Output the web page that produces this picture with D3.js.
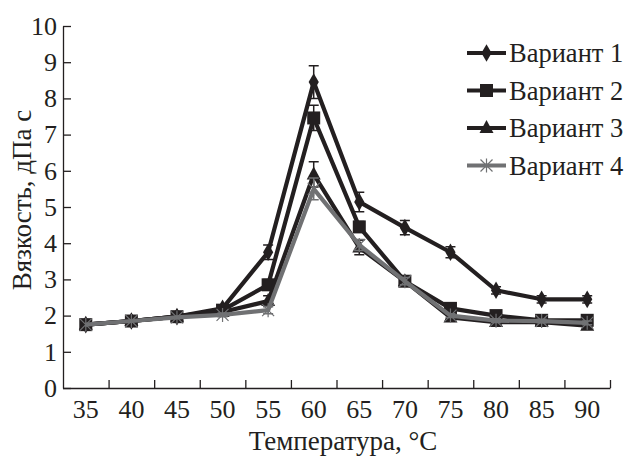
<!DOCTYPE html>
<html lang="ru">
<head>
  <meta charset="utf-8">
  <title>Вязкость</title>
  <script src="https://d3js.org/d3.v7.min.js"></script>
  <style>
    body { margin: 0; background: #fff; }
  </style>
</head>
<body>
<svg id="chart" width="627" height="456"></svg>
<script>
// temperatures, °C
var temps = ["35", "40", "45", "50", "55", "60", "65", "70", "75", "80", "85", "90"];

// viscosity, dPa s
var v1 = [1.75, 1.85, 1.97, 2.2, 3.75, 8.45, 5.14, 4.43, 3.75, 2.7, 2.45, 2.45];
var v2 = [1.75, 1.85, 1.97, 2.15, 2.85, 7.46, 4.45, 2.95, 2.2, 2.0, 1.87, 1.87];
var v3 = [1.75, 1.85, 1.97, 2.1, 2.4, 5.9, 3.88, 2.95, 1.95, 1.82, 1.82, 1.72];
var v4 = [1.75, 1.85, 1.95, 2.02, 2.15, 5.5, 3.95, 2.95, 2.0, 1.86, 1.85, 1.8];

// error bars (+/-)
var e1 = [0, 0, 0, 0.08, 0.2, 0.45, 0.27, 0.2, 0.15, 0.1, 0.1, 0.1];
var e2 = [0, 0, 0, 0, 0.15, 0.35, 0.15, 0.1, 0.1, 0.05, 0.05, 0.05];
var e3 = [0, 0, 0, 0, 0.15, 0.35, 0.2, 0.1, 0.05, 0.05, 0.05, 0.05];
var e4 = [0, 0, 0, 0.05, 0.1, 0.3, 0.15, 0.1, 0.05, 0.05, 0.05, 0.05];

var names = ["Вариант 1", "Вариант 2", "Вариант 3", "Вариант 4"];
var yTicks = [0, 1, 2, 3, 4, 5, 6, 7, 8, 9, 10];

var dark = "#231f20", grey = "#707173";
var serif = "'Liberation Serif', 'DejaVu Serif', serif";
var series = [
  {name: names[0], vals: v1, err: e1, shape: "diamond", color: dark},
  {name: names[1], vals: v2, err: e2, shape: "square", color: dark},
  {name: names[2], vals: v3, err: e3, shape: "triangle", color: dark},
  {name: names[3], vals: v4, err: e4, shape: "cross", color: grey}
];

var svg = d3.select("#chart");
var m = {left: 63, right: 610, top: 26, bottom: 388};

var x = d3.scaleBand().domain(temps).range([m.left, m.right]).padding(0);
var xb = d3.scaleLinear().domain([0, temps.length]).range([m.left, m.right]);
var y = d3.scaleLinear().domain([0, 10]).range([m.bottom, m.top]);
var cx = t => x(t) + x.bandwidth() / 2;

// y axis
var gy = svg.append("g").attr("transform", "translate(" + m.left + ",0)")
  .call(d3.axisLeft(y).tickValues(yTicks).tickSizeInner(-8).tickSizeOuter(0).tickPadding(6));
gy.attr("font-family", serif);
gy.selectAll("text").style("font-size", "26px");

// x axis labels
var gx = svg.append("g").attr("transform", "translate(0," + m.bottom + ")")
  .call(d3.axisBottom(x).tickSize(0).tickPadding(12));
gx.attr("font-family", serif);
gx.selectAll("text").style("font-size", "26px");
gx.select(".domain").attr("d", "M" + m.left + ",0.5H" + (m.right + 0.5));
// x boundary ticks (inward)
svg.append("g").attr("transform", "translate(0," + m.bottom + ")")
  .call(d3.axisBottom(xb).tickValues(d3.range(1, temps.length + 1)).tickSize(-8).tickFormat(""))
  .select(".domain").remove();

svg.selectAll(".domain, .tick line").attr("stroke", dark).attr("stroke-width", 1.3);

// axis titles
svg.append("text").attr("x", 343).attr("y", 450)
  .attr("text-anchor", "middle").style("font-size", "27px").text("Температура, °C");
svg.append("text").attr("transform", "translate(31,200) rotate(-90)")
  .attr("text-anchor", "middle").style("font-size", "27px").text("Вязкость, дПа с");

function marker(g, shape, color) {
  if (shape === "diamond") {
    g.append("path").attr("d", d3.symbol(d3.symbolDiamond, 90)()).attr("fill", color);
  } else if (shape === "square") {
    g.append("rect").attr("x", -6.5).attr("y", -6.5).attr("width", 13).attr("height", 13).attr("fill", color);
  } else if (shape === "triangle") {
    g.append("path").attr("d", "M0,-8L7,5L-7,5Z").attr("fill", color);
  } else {
    g.append("path").attr("d", "M-6,-6L6,6M-6,6L6,-6M0,-7V7").attr("stroke", color)
      .attr("stroke-width", 1.2).attr("fill", "none");
  }
}

var line = d3.line().x((d, i) => cx(temps[i])).y(d => y(d));

series.forEach(function(s) {
  var g = svg.append("g");
  // error bars
  s.vals.forEach(function(v, i) {
    if (!s.err[i]) return;
    var xx = cx(temps[i]), y1 = y(v + s.err[i]), y2 = y(v - s.err[i]);
    g.append("path")
      .attr("d", "M" + xx + "," + y1 + "V" + y2 + "M" + (xx - 5) + "," + y1 + "H" + (xx + 5) + "M" + (xx - 5) + "," + y2 + "H" + (xx + 5))
      .attr("stroke", s.color).attr("stroke-width", 1.5).attr("fill", "none");
  });
  g.append("path").datum(s.vals).attr("d", line)
    .attr("fill", "none").attr("stroke", s.color).attr("stroke-width", 4.2).attr("stroke-linejoin", "round");
  s.vals.forEach(function(v, i) {
    marker(g.append("g").attr("transform", "translate(" + cx(temps[i]) + "," + y(v) + ")"), s.shape, s.color);
  });
});

// legend
var leg = svg.append("g").attr("transform", "translate(467,53)");
series.forEach(function(s, i) {
  var row = leg.append("g").attr("transform", "translate(0," + (i * 37.5) + ")");
  row.append("line").attr("x1", 0).attr("x2", 39).attr("stroke", s.color).attr("stroke-width", 4.2);
  marker(row.append("g").attr("transform", "translate(19.5,0)"), s.shape, s.color);
  row.append("text").attr("x", 42).attr("y", 9).style("font-size", "26.5px").text(s.name);
});

// every text in serif, dark
svg.selectAll("text").style("font-family", serif).attr("fill", dark);
</script>
</body>
</html>
